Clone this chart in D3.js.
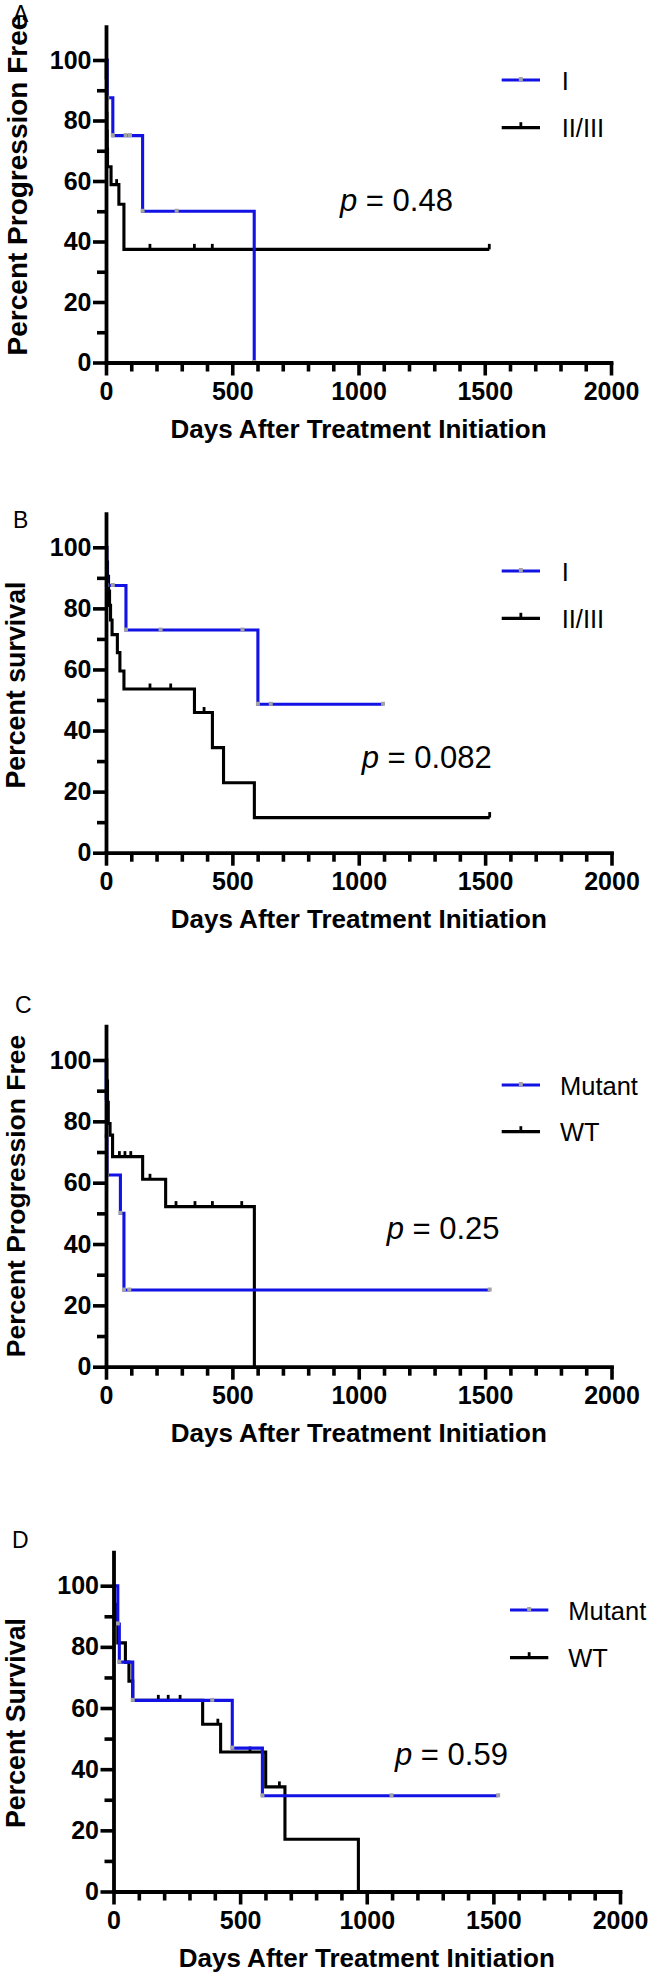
<!DOCTYPE html>
<html>
<head>
<meta charset="utf-8">
<script src="https://cdn.jsdelivr.net/npm/d3@7"></script>
<style>
  html, body { margin: 0; padding: 0; background: #ffffff; }
  svg { display: block; }
  text { font-family: "Liberation Sans", Arial, Helvetica, sans-serif; fill: #000; }
</style>
</head>
<body>
<script>
// ---------------- DATA ----------------
const xTicks = [0, 500, 1000, 1500, 2000];
const xMinorTicks = [100, 200, 300, 400, 600, 700, 800, 900, 1100, 1200, 1300, 1400, 1600, 1700, 1800, 1900];
const yTicks = [0, 20, 40, 60, 80, 100];
const yMinorTicks = [10, 30, 50, 70, 90];

// Panel A: Percent Progression Free, stage I vs II/III
const A_I_days   = [0, 5, 27, 145, 587];
const A_I_pct    = [100, 87.5, 75, 50, 0];
const A_I_cens   = [5, 27, 78, 95, 145, 280, 587];
const A_II_days  = [0, 1, 2, 3, 4, 5, 6, 20, 51, 71, 1518];
const A_II_pct   = [100, 94.1, 88.2, 82.4, 76.5, 70.6, 64.7, 58.8, 52.3, 37.4, 37.4];
const A_II_cens  = [42, 174, 350, 421, 1518];

// Panel B: Percent survival, stage I vs II/III
const B_I_days   = [0, 3, 79, 601, 1096];
const B_I_pct    = [100, 87.5, 72.9, 48.6, 48.6];
const B_I_cens   = [3, 27, 79, 216, 540, 601, 652, 1096];
const B_II_days  = [0, 3, 6, 10, 14, 18, 24, 45, 55, 71, 350, 421, 465, 587, 1518];
const B_II_pct   = [100, 95.2, 90.5, 85.7, 81.0, 76.2, 71.4, 65.5, 59.5, 53.6, 45.9, 34.4, 22.9, 11.5, 11.5];
const B_II_cens  = [174, 256, 388, 1518];

// Panel C: Percent Progression Free, Mutant vs WT
const C_Mut_days = [0, 1, 2, 4, 57, 71, 1518];
const C_Mut_pct  = [100, 87.5, 75, 62.5, 50, 25, 25];
const C_Mut_cens = [2, 4, 57, 71, 92, 1518];
const C_WT_days  = [0, 3, 6, 9, 16, 26, 145, 236, 587];
const C_WT_pct   = [100, 93.1, 86.2, 79.3, 75.5, 68.5, 61.1, 52.2, 0];
const C_WT_cens  = [53, 75, 98, 174, 277, 352, 421, 537];

// Panel D: Percent Survival, Mutant vs WT
const D_Mut_days = [0, 17, 23, 76, 469, 588, 1519];
const D_Mut_pct  = [100, 87.5, 75, 62.5, 46.9, 31.3, 31.3];
const D_Mut_cens = [17, 23, 76, 390, 469, 588, 1098, 1519];
const D_WT_days  = [0, 4, 9, 17, 47, 61, 76, 352, 423, 601, 677, 967];
const D_WT_pct   = [100, 93.8, 87.5, 81.3, 75, 68.8, 62.5, 54.7, 45.6, 34.2, 17.1, 0];
const D_WT_cens  = [177, 216, 263, 412, 539, 655];

const pValues = ["0.48", "0.082", "0.25", "0.59"];
const yTitles = ["Percent Progression Free", "Percent survival", "Percent Progression Free", "Percent Survival"];
const seriesNamesAB = ["I", "II/III"];
const seriesNamesCD = ["Mutant", "WT"];
const xTitle = "Days After Treatment Initiation";

// ---------------- STYLE / LAYOUT ----------------
const BLUE = "#1212e4";
const BLACK = "#000000";
const CENSOR_GRAY = "#a3a3a3";
const Y_MAX = 111;

const panels = [
  { letter: "A", lx: 13, ly: 22, x0: 106, x1: 611, y0: 362.5, ppu: 3.025,
    yTitle: yTitles[0], ytFont: 28, ytX: 26.5, ytY: 185,
    blue: [A_I_days, A_I_pct, A_I_cens], black: [A_II_days, A_II_pct, A_II_cens],
    names: seriesNamesAB, lg: { xa: 501.7, xb: 540, yb: 80, yk: 127.7, tx: 561.7 },
    p: pValues[0], px: 340, py: 210.5 },
  { letter: "B", lx: 13, ly: 528, x0: 106, x1: 611.5, y0: 852.7, ppu: 3.054,
    yTitle: yTitles[1], ytFont: 26.8, ytX: 25, ytY: 685,
    blue: [B_I_days, B_I_pct, B_I_cens], black: [B_II_days, B_II_pct, B_II_cens],
    names: seriesNamesAB, lg: { xa: 501.7, xb: 540, yb: 571, yk: 618.3, tx: 561.7 },
    p: pValues[1], px: 361.7, py: 768.3 },
  { letter: "C", lx: 15, ly: 1013, x0: 106, x1: 611.5, y0: 1366.7, ppu: 3.067,
    yTitle: yTitles[2], ytFont: 26.5, ytX: 25, ytY: 1196,
    blue: [C_Mut_days, C_Mut_pct, C_Mut_cens], black: [C_WT_days, C_WT_pct, C_WT_cens],
    names: seriesNamesCD, lg: { xa: 501.7, xb: 540, yb: 1085, yk: 1131.7, tx: 560 },
    p: pValues[2], px: 386.7, py: 1239 },
  { letter: "D", lx: 12, ly: 1548, x0: 113.5, x1: 620, y0: 1891.5, ppu: 3.058,
    yTitle: yTitles[3], ytFont: 26.8, ytX: 25, ytY: 1723,
    blue: [D_Mut_days, D_Mut_pct, D_Mut_cens], black: [D_WT_days, D_WT_pct, D_WT_cens],
    names: seriesNamesCD, lg: { xa: 510, xb: 548.3, yb: 1610, yk: 1657.7, tx: 568.3 },
    p: pValues[3], px: 395, py: 1764.5 }
];

// ---------------- DRAW ----------------
const svg = d3.select("body").append("svg")
  .attr("width", 652).attr("height", 1976)
  .attr("viewBox", "0 0 652 1976");
svg.append("rect").attr("width", 652).attr("height", 1976).attr("fill", "#fff");

function stepValue(days, pct, t) {
  let v = pct[0];
  for (let i = 0; i < days.length; i++) { if (days[i] <= t) v = pct[i]; }
  return v;
}

function styleAxis(g) {
  g.selectAll(".domain").attr("stroke", "#000").attr("stroke-width", 3.8).attr("stroke-linecap", "square");
  g.selectAll(".tick line").attr("stroke", "#000").attr("stroke-width", 3.6);
  g.selectAll(".tick text").attr("font-size", 25).attr("font-weight", "bold")
    .attr("font-family", "'Liberation Sans', Arial, sans-serif").attr("fill", "#000");
}

const fmt = d3.format("d");

panels.forEach(P => {
  const g = svg.append("g");
  const x = d3.scaleLinear().domain([0, 2000]).range([P.x0, P.x1]);
  const y = d3.scaleLinear().domain([0, Y_MAX]).range([P.y0, P.y0 - Y_MAX * P.ppu]);

  // panel letter
  g.append("text").attr("x", P.lx).attr("y", P.ly).attr("font-size", 23).text(P.letter);

  // curves: black first, blue on top
  const line = d3.line().x(d => x(d[0])).y(d => y(d[1])).curve(d3.curveStepAfter);
  const drawSeries = (ser, color, isBlue) => {
    const [days, pct, cens] = ser;
    const pts = days.map((d, i) => [d, pct[i]]);
    g.append("path").datum(pts).attr("d", line)
      .attr("fill", "none").attr("stroke", color).attr("stroke-width", 3.1)
      .attr("stroke-linejoin", "miter");
    cens.forEach(c => {
      const cx = x(c), cy = y(stepValue(days, pct, c));
      if (isBlue) {
        g.append("rect").attr("x", cx - 2).attr("y", cy - 2.5).attr("width", 4).attr("height", 4)
          .attr("fill", CENSOR_GRAY);
      } else {
        g.append("line").attr("x1", cx).attr("x2", cx).attr("y1", cy).attr("y2", cy - 5.5)
          .attr("stroke", "#000").attr("stroke-width", 2.8);
      }
    });
  };
  drawSeries(P.black, BLACK, false);
  drawSeries(P.blue, BLUE, true);

  // axes
  const yAx = g.append("g").attr("transform", `translate(${P.x0},0)`)
    .call(d3.axisLeft(y).tickValues(yTicks).tickFormat(fmt).tickSize(13).tickSizeOuter(0).tickPadding(1.5));
  styleAxis(yAx);
  const yMin = g.append("g").attr("transform", `translate(${P.x0},0)`)
    .call(d3.axisLeft(y).tickValues(yMinorTicks).tickSize(9).tickFormat(""));
  yMin.select(".domain").remove();
  styleAxis(yMin);

  const xAx = g.append("g").attr("transform", `translate(0,${P.y0})`)
    .call(d3.axisBottom(x).tickValues(xTicks).tickFormat(fmt).tickSize(13).tickSizeOuter(0).tickPadding(6.5));
  styleAxis(xAx);
  const xMin = g.append("g").attr("transform", `translate(0,${P.y0})`)
    .call(d3.axisBottom(x).tickValues(xMinorTicks).tickSize(9).tickFormat(""));
  xMin.select(".domain").remove();
  styleAxis(xMin);

  // axis titles
  g.append("text").attr("x", (P.x0 + P.x1) / 2).attr("y", P.y0 + 75.5)
    .attr("text-anchor", "middle").attr("font-size", 26).attr("font-weight", "bold").text(xTitle);
  g.append("text").attr("transform", `translate(${P.ytX},${P.ytY}) rotate(-90)`)
    .attr("text-anchor", "middle").attr("font-size", P.ytFont).attr("font-weight", "bold").text(P.yTitle);

  // legend
  const L = P.lg;
  const legendRows = [
    { y: L.yb, color: BLUE, name: P.names[0], blue: true },
    { y: L.yk, color: BLACK, name: P.names[1], blue: false }
  ];
  legendRows.forEach(r => {
    g.append("line").attr("x1", L.xa).attr("x2", L.xb).attr("y1", r.y).attr("y2", r.y)
      .attr("stroke", r.color).attr("stroke-width", 3.2);
    const mx = (L.xa + L.xb) / 2;
    if (r.blue) {
      g.append("rect").attr("x", mx - 2).attr("y", r.y - 3).attr("width", 4).attr("height", 4).attr("fill", CENSOR_GRAY);
    } else {
      g.append("line").attr("x1", mx).attr("x2", mx).attr("y1", r.y).attr("y2", r.y - 5.5)
        .attr("stroke", "#000").attr("stroke-width", 2.8);
    }
    g.append("text").attr("x", L.tx).attr("y", r.y + 9.5).attr("font-size", 25.5).text(r.name);
  });

  // p-value
  const pt = g.append("text").attr("x", P.px).attr("y", P.py).attr("font-size", 31);
  pt.append("tspan").attr("font-style", "italic").text("p");
  pt.append("tspan").text(" = " + P.p);
});
</script>
</body>
</html>
